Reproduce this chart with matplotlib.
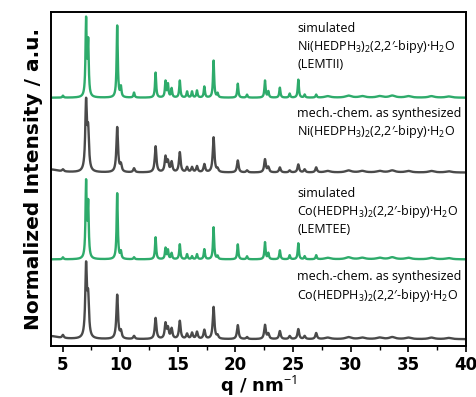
import matplotlib
matplotlib.use('Agg')
import matplotlib.pyplot as plt
import numpy as np
from matplotlib.ticker import MultipleLocator

# peak positions (q / nm^-1)
pos = [5.03, 7.04, 7.22, 9.74, 10.06, 11.2, 13.07, 13.93, 14.14, 14.46, 15.17,
       15.8, 16.23, 16.66, 17.3, 18.1, 18.45, 20.2, 21.0, 22.56, 22.85, 23.85,
       24.7, 25.45, 26.0, 27.0]

# peak heights (px-like a.u.)
h_ni_sim = [2, 76, 53, 72, 10, 5, 25, 16, 13, 9, 17, 6, 6, 7, 11, 37, 4, 14, 3, 17, 6, 10, 4, 18, 3, 3]
h_ni_exp = [2, 68, 37, 45, 7, 4, 26, 15, 10, 10, 20, 5, 5, 6, 8, 35, 3, 12, 2, 13, 5, 5, 2, 8, 3, 5]
h_co_sim = [2, 75, 53, 66, 7, 2, 22, 11, 9, 6, 15, 5, 3, 5, 10, 32, 3, 15, 3, 17, 6, 9, 4, 16, 3, 4]
h_co_exp = [3, 71, 37, 44, 7, 3, 21, 15, 10, 10, 18, 5, 6, 7, 9, 32, 3, 14, 2, 14, 5, 8, 3, 10, 3, 6]

# small bumps in the tail
tail_pos = [28.0, 29.8, 31.0, 32.5, 33.6, 35.0, 37.0, 38.5]
tail_h = [1.5, 2, 1.5, 1.5, 2, 1.5, 1.5, 1.2]

baselines = [249, 174, 87, 7]
labels = [
    'simulated\nNi(HEDPH$\\mathregular{_3}$)$\\mathregular{_2}$(2,2′-bipy)·H$\\mathregular{_2}$O\n(LEMTII)',
    'mech.-chem. as synthesized\nNi(HEDPH$\\mathregular{_3}$)$\\mathregular{_2}$(2,2′-bipy)·H$\\mathregular{_2}$O',
    'simulated\nCo(HEDPH$\\mathregular{_3}$)$\\mathregular{_2}$(2,2′-bipy)·H$\\mathregular{_2}$O\n(LEMTEE)',
    'mech.-chem. as synthesized\nCo(HEDPH$\\mathregular{_3}$)$\\mathregular{_2}$(2,2′-bipy)·H$\\mathregular{_2}$O',
]
label_y = [325, 240, 160, 76]

green = '#2EAB6B'
grey = '#4A4A4A'

q = np.arange(4, 40.001, 0.01)


def pattern(heights, w):
    y = np.zeros_like(q)
    for p, hh in zip(pos, heights):
        y += hh / (1 + ((q - p) / w) ** 2)
    for p, hh in zip(tail_pos, tail_h):
        y += hh / (1 + ((q - p) / 0.3) ** 2)
    return y


plt.rcParams['font.family'] = ['DejaVu Sans']
plt.rcParams['mathtext.fontset'] = 'custom'
plt.rcParams['mathtext.rm'] = 'Open Sans'

fig = plt.figure(figsize=(4.77, 3.97), dpi=100)
ax = fig.add_axes([0.107, 0.128, 0.870, 0.842])

series = [(h_ni_sim, green, 0.06), (h_ni_exp, grey, 0.085),
          (h_co_sim, green, 0.06), (h_co_exp, grey, 0.085)]
for (hs, c, w), b in zip(series, baselines):
    y = pattern(hs, w)
    if c == grey:
        y = y + 3 / (1 + ((q - 4.0) / 0.8) ** 2)
    ax.plot(q, y + b, color=c, lw=1.7)

for t, yy in zip(labels, label_y):
    ax.text(25.35, yy, t, fontsize=9, family=['Open Sans', 'DejaVu Sans'],
            va='top', ha='left', linespacing=1.3)

ax.set_xlim(4, 40)
ax.set_ylim(0, 335)
ax.xaxis.set_major_locator(MultipleLocator(5))
ax.xaxis.set_minor_locator(MultipleLocator(2.5))
ax.tick_params(axis='x', which='major', direction='out', length=4, width=1.2, labelsize=12, pad=3)
ax.tick_params(axis='x', which='minor', direction='out', length=3, width=1.0)
ax.set_yticks([])
for lab in ax.get_xticklabels():
    lab.set_fontweight('bold')
for s in ax.spines.values():
    s.set_linewidth(1.4)

ax.set_xlabel('q / nm$^{-1}$', fontsize=13, fontweight='bold', labelpad=0)
ax.set_ylabel('Normalized Intensity / a.u.', fontsize=14.5, fontweight='bold', labelpad=6)

plt.savefig('out.png', dpi=100)
